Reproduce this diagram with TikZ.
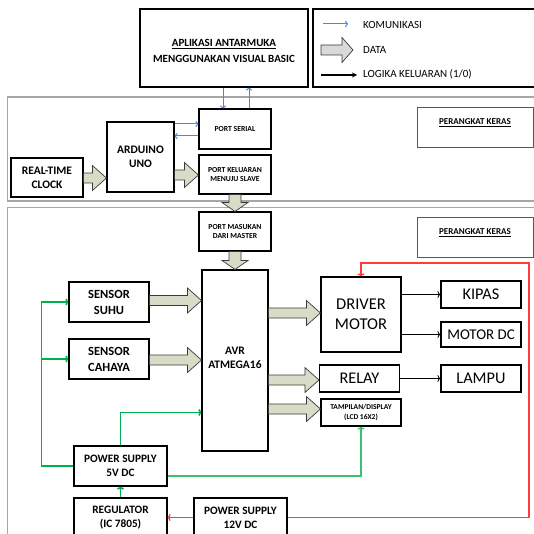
\documentclass[tikz,border=0pt]{standalone}
\usepackage{fontspec}
\setmainfont{Carlito}
\usetikzlibrary{arrows.meta,calc}
\definecolor{dfill}{HTML}{D8DCC6}
\definecolor{dline}{HTML}{3A3A3A}
\definecolor{kblue}{HTML}{4A86E8}
\definecolor{pgreen}{HTML}{00B050}
\definecolor{lgreen}{HTML}{3CBF6E}
\definecolor{pred}{HTML}{FF3B3B}
\definecolor{secgray}{HTML}{A6A6A6}
\definecolor{pkblue}{HTML}{0070C0}
\tikzset{
  box/.style={draw=black, line width=1.1pt, align=center, inner sep=0pt, fill=white},
  bsmall/.style={box, font=\bfseries\fontsize{7.7}{9.8}\selectfont},
  bmid/.style={box, font=\bfseries\fontsize{11.5}{14}\selectfont},
  bplain/.style={box, font=\fontsize{16.3}{20}\selectfont},
  legtext/.style={anchor=west, inner sep=0pt, font=\fontsize{11}{13}\selectfont},
  pktext/.style={font=\bfseries\fontsize{9}{11}\selectfont, inner sep=0pt},
  dataarrow/.style={draw=dline, fill=dfill, line width=0.7pt, line join=miter},
  komm/.style={draw=kblue, line width=1pt, -{To[length=3pt,width=6pt]}},
  logic/.style={draw=black, line width=0.8pt, -{To[length=3pt,width=7pt]}},
  pwr/.style={draw=pgreen, line width=1.7pt, -{To[length=3pt,width=7pt]}},
  pwrl/.style={draw=lgreen, line width=1.3pt, -{To[length=3pt,width=7pt]}},
  pwr12/.style={draw=pred, line width=1.3pt, -{To[length=3pt,width=7pt]}},
  section/.style={draw=secgray, line width=1.3pt},
}
\newcommand\dataR[2]{%
  \draw[dataarrow] let \p1=(#1), \p2=(#2) in
    (\x1,\y1+5pt) -- (\x2-14pt,\y1+5pt) -- (\x2-14pt,\y1+12.5pt) -- (\x2,\y1)
    -- (\x2-14pt,\y1-12.5pt) -- (\x2-14pt,\y1-5pt) -- (\x1,\y1-5pt) -- cycle;}
\newcommand\dataD[2]{%
  \draw[dataarrow] let \p1=(#1), \p2=(#2) in
    (\x1-6pt,\y1) -- (\x1-6pt,\y2+9pt) -- (\x1-13pt,\y2+9pt) -- (\x1,\y2)
    -- (\x1+13pt,\y2+9pt) -- (\x1+6pt,\y2+9pt) -- (\x1+6pt,\y1) -- cycle;}
\begin{document}
\begin{tikzpicture}[x=1pt,y=-1pt]
\clip (0,0) rectangle (534,534);
\fill[white] (0,0) rectangle (534,534);
% sections
\draw[section] (7.5,97) rectangle (545,201);
\draw[section] (7.5,207.5) rectangle (545,545);
% top boxes
\node[box, minimum width=168pt, minimum height=78pt] (app) at (224,48) {};
\node[font=\bfseries\fontsize{11}{16.5}\selectfont, align=center, inner sep=0pt] (appt) at (224,51) {\underline{APLIKASI ANTARMUKA}\\MENGGUNAKAN VISUAL BASIC};
\node[box, minimum width=230pt, minimum height=78pt] (legend) at (428,48) {};
% legend
\coordinate (k1) at (323,24); \coordinate (k2) at (348,24);
\draw[komm] (k1) -- (k2);
\node[legtext] (lk) at (363,24.5) {KOMUNIKASI};
\coordinate (d1) at (321,50); \coordinate (d2) at (353,50);
\draw[draw=dline, fill=black!15, line width=0.7pt] let \p1=(d1), \p2=(d2) in
    (\x1,\y1+5pt) -- (\x2-11pt,\y1+5pt) -- (\x2-11pt,\y1+12.5pt) -- (\x2,\y1)
    -- (\x2-11pt,\y1-12.5pt) -- (\x2-11pt,\y1-5pt) -- (\x1,\y1-5pt) -- cycle;
\node[legtext] (ld) at (363,49.5) {DATA};
\coordinate (l1) at (321,75); \coordinate (l2) at (357,75);
\draw[draw=black, line width=1.6pt, -{Stealth[length=5pt,width=5pt]}] (l1) -- (l2);
\node[legtext] (ll) at (363,74.5) {LOGIKA KELUARAN (1/0)};
% section 1
\node[bsmall, minimum width=72pt, minimum height=40pt] (serial) at (235,129) {PORT SERIAL};
\node[bmid, minimum width=67pt, minimum height=70pt] (arduino) at (140.5,157) {ARDUINO\\UNO};
\node[bmid, minimum width=72pt, minimum height=39pt] (rtc) at (47,177.5) {REAL-TIME\\CLOCK};
\node[bsmall, minimum width=72pt, minimum height=39pt] (keluaran) at (235,174.5) {PORT KELUARAN\\MENUJU SLAVE};
\node[draw=pkblue, line width=1pt, minimum width=116pt, minimum height=40pt] (pk1) at (475,128) {};
\node[pktext] (pk1t) at (475,123) {\underline{PERANGKAT KERAS}};
% section 2
\node[bsmall, minimum width=72pt, minimum height=39pt] (masukan) at (235,231.5) {PORT MASUKAN\\DARI MASTER};
\node[draw=pkblue, line width=1pt, minimum width=116pt, minimum height=39pt] (pk2) at (475,237.5) {};
\node[pktext] (pk2t) at (475,233) {\underline{PERANGKAT KERAS}};
\node[bmid, minimum width=66pt, minimum height=181pt] (avr) at (235,360.5) {};
\node[font=\bfseries\fontsize{11.5}{13.5}\selectfont, align=center, inner sep=0pt] (avrt) at (235,358) {AVR\\ATMEGA16};
\node[bmid, minimum width=80pt, minimum height=40pt, font=\bfseries\fontsize{12.5}{16}\selectfont] (suhu) at (109,302) {SENSOR\\SUHU};
\node[bmid, minimum width=80pt, minimum height=40pt, font=\bfseries\fontsize{12.5}{16}\selectfont] (cahaya) at (109,359) {SENSOR\\CAHAYA};
\node[bplain, minimum width=80pt, minimum height=75pt, font=\fontsize{16.5}{20}\selectfont] (driver) at (361,314.5) {DRIVER\\MOTOR};
\node[bplain, minimum width=80pt, minimum height=27pt] (kipas) at (481,294.5) {KIPAS};
\node[bplain, minimum width=80pt, minimum height=25pt, font=\fontsize{14.9}{17}\selectfont] (motordc) at (481,334.5) {MOTOR DC};
\node[bplain, minimum width=80pt, minimum height=27pt] (relay) at (359.5,378.5) {RELAY};
\node[bplain, minimum width=80pt, minimum height=27pt] (lampu) at (481,378.5) {LAMPU};
\node[box, minimum width=80pt, minimum height=27pt, font=\bfseries\fontsize{7.5}{10}\selectfont] (lcd) at (361,412.5) {TAMPILAN/DISPLAY\\(LCD 16X2)};
\node[bmid, minimum width=93pt, minimum height=40pt, font=\bfseries\fontsize{11.3}{14}\selectfont] (ps5) at (120.5,466) {POWER SUPPLY\\5V DC};
\node[bmid, minimum width=93pt, minimum height=40pt, font=\bfseries\fontsize{11.3}{14}\selectfont] (reg) at (120.5,518) {REGULATOR\\(IC 7805)};
\node[bmid, minimum width=93pt, minimum height=40pt, font=\bfseries\fontsize{11.3}{14}\selectfont] (ps12) at (240.5,518) {POWER SUPPLY\\12V DC};
% communication arrows
\draw[komm] (app.south -| 223,0) -- (serial.north -| 223,0);
\draw[komm] (serial.north -| 249,0) -- (app.south -| 249,0);
\draw[komm] (arduino.east |- 0,124) -- (serial.west |- 0,124);
\draw[komm] (serial.west |- 0,136) -- (arduino.east |- 0,136);
% data arrows
\dataR{rtc.east |- 0,178}{arduino.west |- 0,178}
\dataR{arduino.east |- 0,175}{keluaran.west |- 0,175}
\dataD{keluaran.south}{masukan.north}
\dataD{masukan.south}{avr.north}
\dataR{suhu.east |- 0,300.5}{avr.west |- 0,300.5}
\dataR{cahaya.east |- 0,360}{avr.west |- 0,360}
\dataR{avr.east |- 0,313}{driver.west |- 0,313}
\dataR{avr.east |- 0,380}{relay.west |- 0,380}
\dataR{avr.east |- 0,409}{lcd.west |- 0,409}
% logic arrows
\draw[logic] (driver.east |- kipas.west) -- (kipas.west);
\draw[logic] (driver.east |- motordc.west) -- (motordc.west);
\draw[logic] (relay.east) -- (lampu.west);
% power
\coordinate (r1) at (529,517.5);
\coordinate (r2) at (529,263);
\draw[pwr12] (ps12.east |- r1) -- (r1) -- (r2) -- (r2 -| driver.north) -- (driver.north);
\draw[pwr12] (ps12.west |- 0,517.5) -- (reg.east |- 0,517.5);
\draw[pwr] (reg.north) -- (ps5.south);
\coordinate (g1) at (120.5,412.5);
\draw[pwr] (ps5.north) -- (g1) -- (avr.west |- g1);
\coordinate (g2) at (41.5,466);
\coordinate (g3) at (41.5,302);
\draw[pwr] (ps5.west) -- (g2) -- (g3) -- (suhu.west);
\draw[pwr] (g2 |- cahaya.west) -- (cahaya.west);
\coordinate (g4) at (361,476);
\draw[pwrl] (ps5.east |- g4) -- (g4) -- (lcd.south);
\end{tikzpicture}
\end{document}
